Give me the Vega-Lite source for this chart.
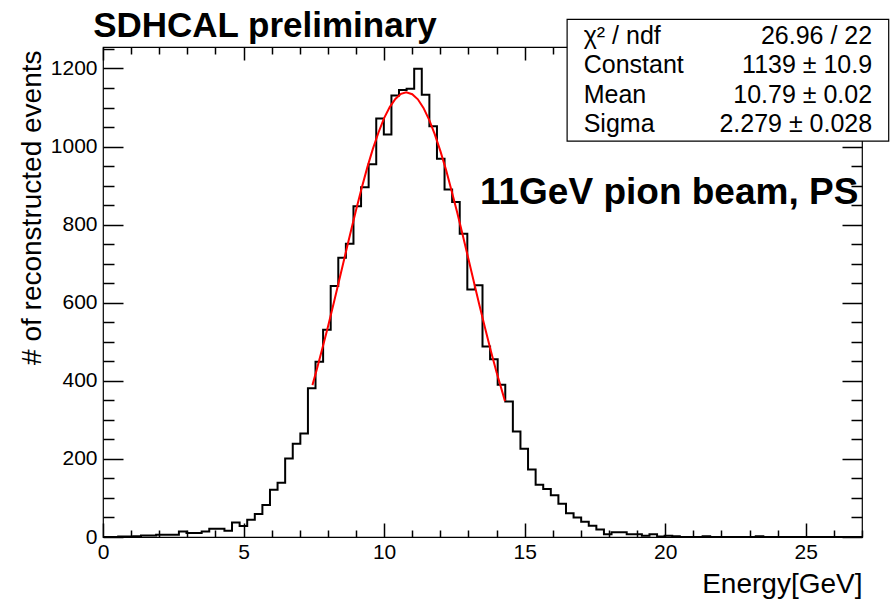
{
  "$schema": "https://vega.github.io/schema/vega-lite/v6.json",
  "width": 759,
  "height": 490,
  "autosize": {"type": "none"},
  "padding": {"left": 103, "top": 47, "right": 32, "bottom": 66},
  "background": "white",
  "config": {
    "font": "Liberation Sans",
    "view": {"stroke": "black", "strokeWidth": 1.2, "fill": null},
    "axis": {
      "domain": false,
      "grid": false,
      "ticks": true,
      "tickColor": "#000000",
      "tickWidth": 1.5,
      "zindex": 1,
      "labelColor": "black",
      "labelFont": "Liberation Sans",
      "labelFontSize": 21,
      "labelFlush": false,
      "labelOverlap": false,
      "titleFont": "Liberation Sans",
      "titleFontWeight": "normal",
      "titleColor": "black",
      "titleFontSize": 28
    }
  },
  "resolve": {"axis": {"x": "independent", "y": "independent"}},
  "layer": [
    {
      "data": {
        "values": [
          {"energy": 0, "events": 0}, {"energy": 0.27, "events": 0}, {"energy": 0.54, "events": 1}, {"energy": 0.81, "events": 1},
          {"energy": 1.08, "events": 2}, {"energy": 1.35, "events": 4}, {"energy": 1.62, "events": 4}, {"energy": 1.89, "events": 6},
          {"energy": 2.16, "events": 6}, {"energy": 2.43, "events": 6}, {"energy": 2.7, "events": 14}, {"energy": 2.97, "events": 10},
          {"energy": 3.24, "events": 10}, {"energy": 3.51, "events": 14}, {"energy": 3.78, "events": 21}, {"energy": 4.05, "events": 21},
          {"energy": 4.32, "events": 16}, {"energy": 4.59, "events": 37}, {"energy": 4.86, "events": 28}, {"energy": 5.13, "events": 44},
          {"energy": 5.4, "events": 59}, {"energy": 5.67, "events": 82}, {"energy": 5.94, "events": 121}, {"energy": 6.21, "events": 139},
          {"energy": 6.48, "events": 201}, {"energy": 6.75, "events": 239}, {"energy": 7.02, "events": 265}, {"energy": 7.29, "events": 381},
          {"energy": 7.56, "events": 449}, {"energy": 7.83, "events": 531}, {"energy": 8.1, "events": 643}, {"energy": 8.37, "events": 715},
          {"energy": 8.64, "events": 751}, {"energy": 8.91, "events": 847}, {"energy": 9.18, "events": 896}, {"energy": 9.45, "events": 955},
          {"energy": 9.72, "events": 1072}, {"energy": 9.99, "events": 1031}, {"energy": 10.26, "events": 1131}, {"energy": 10.53, "events": 1145},
          {"energy": 10.8, "events": 1148}, {"energy": 11.07, "events": 1199}, {"energy": 11.34, "events": 1133}, {"energy": 11.61, "events": 1052},
          {"energy": 11.88, "events": 969}, {"energy": 12.15, "events": 890}, {"energy": 12.42, "events": 858}, {"energy": 12.69, "events": 777},
          {"energy": 12.96, "events": 634}, {"energy": 13.23, "events": 645}, {"energy": 13.5, "events": 488}, {"energy": 13.77, "events": 455},
          {"energy": 14.04, "events": 390}, {"energy": 14.31, "events": 347}, {"energy": 14.58, "events": 270}, {"energy": 14.85, "events": 226},
          {"energy": 15.12, "events": 173}, {"energy": 15.39, "events": 134}, {"energy": 15.66, "events": 123}, {"energy": 15.93, "events": 107},
          {"energy": 16.2, "events": 85}, {"energy": 16.47, "events": 61}, {"energy": 16.74, "events": 50}, {"energy": 17.01, "events": 39},
          {"energy": 17.28, "events": 29}, {"energy": 17.55, "events": 19}, {"energy": 17.82, "events": 7}, {"energy": 18.09, "events": 12},
          {"energy": 18.36, "events": 12}, {"energy": 18.63, "events": 7}, {"energy": 18.9, "events": 7}, {"energy": 19.17, "events": 3},
          {"energy": 19.44, "events": 7}, {"energy": 19.71, "events": 1}, {"energy": 19.98, "events": 3}, {"energy": 20.25, "events": 2},
          {"energy": 20.52, "events": 0}, {"energy": 20.79, "events": 0}, {"energy": 21.06, "events": 0}, {"energy": 21.33, "events": 2},
          {"energy": 21.6, "events": 0}, {"energy": 21.87, "events": 0}, {"energy": 22.14, "events": 0}, {"energy": 22.41, "events": 0},
          {"energy": 22.68, "events": 0}, {"energy": 22.95, "events": 0}, {"energy": 23.22, "events": 2}, {"energy": 23.49, "events": 0},
          {"energy": 23.76, "events": 0}, {"energy": 24.03, "events": 0}, {"energy": 24.3, "events": 0}, {"energy": 24.57, "events": 0},
          {"energy": 24.84, "events": 0}, {"energy": 25.11, "events": 0}, {"energy": 25.38, "events": 0}, {"energy": 25.65, "events": 0},
          {"energy": 25.92, "events": 0}, {"energy": 26.19, "events": 0}, {"energy": 26.46, "events": 0}, {"energy": 26.73, "events": 0},
          {"energy": 27, "events": 0}
        ]
      },
      "mark": {"type": "line", "interpolate": "step-after", "color": "black", "strokeWidth": 2},
      "encoding": {
        "x": {
          "field": "energy",
          "type": "quantitative",
          "scale": {"domain": [0, 27], "nice": false, "zero": false},
          "axis": {
            "orient": "bottom",
            "values": [0, 5, 10, 15, 20, 25],
            "format": "d",
            "ticks": true,
            "offset": -14,
            "tickSize": 14,
            "labelPadding": 4,
            "title": "Energy[GeV]",
            "titleX": 759,
            "titleY": 69,
            "titleAlign": "right",
            "titleBaseline": "alphabetic",
            "titleAnchor": "end"
          }
        },
        "y": {
          "field": "events",
          "type": "quantitative",
          "scale": {"domain": [0, 1255], "nice": false, "zero": true},
          "axis": {
            "orient": "left",
            "values": [0, 200, 400, 600, 800, 1000, 1200],
            "format": "d",
            "ticks": true,
            "offset": -20,
            "tickSize": 20,
            "labelPadding": 6,
            "title": "# of reconstructed events",
            "titleAngle": -90,
            "titleX": -83,
            "titleY": 3,
            "titleAlign": "right",
            "titleBaseline": "alphabetic",
            "titleAnchor": "end"
          }
        }
      }
    },
    {
      "data": {
        "values": [
          {"energy": 7.45, "events": 389}, {"energy": 7.6, "events": 428}, {"energy": 7.8, "events": 482}, {"energy": 8.0, "events": 538},
          {"energy": 8.2, "events": 597}, {"energy": 8.4, "events": 657}, {"energy": 8.6, "events": 718}, {"energy": 8.8, "events": 778},
          {"energy": 9.0, "events": 837}, {"energy": 9.2, "events": 893}, {"energy": 9.4, "events": 946}, {"energy": 9.6, "events": 994},
          {"energy": 9.8, "events": 1036}, {"energy": 10.0, "events": 1073}, {"energy": 10.2, "events": 1101}, {"energy": 10.4, "events": 1122},
          {"energy": 10.6, "events": 1135}, {"energy": 10.79, "events": 1139}, {"energy": 11.0, "events": 1134}, {"energy": 11.2, "events": 1121},
          {"energy": 11.4, "events": 1099}, {"energy": 11.6, "events": 1069}, {"energy": 11.8, "events": 1032}, {"energy": 12.0, "events": 989},
          {"energy": 12.2, "events": 941}, {"energy": 12.4, "events": 887}, {"energy": 12.6, "events": 831}, {"energy": 12.8, "events": 772},
          {"energy": 13.0, "events": 712}, {"energy": 13.2, "events": 651}, {"energy": 13.4, "events": 591}, {"energy": 13.6, "events": 533},
          {"energy": 13.8, "events": 476}, {"energy": 14.0, "events": 422}, {"energy": 14.3, "events": 348}
        ]
      },
      "mark": {"type": "line", "color": "#ff0000", "strokeWidth": 2},
      "encoding": {
        "x": {
          "field": "energy",
          "type": "quantitative",
          "axis": {
            "orient": "top",
            "values": [0, 5, 10, 15],
            "labels": false,
            "ticks": true,
            "title": null,
            "offset": -13,
            "tickSize": 13
          }
        },
        "y": {
          "field": "events",
          "type": "quantitative",
          "axis": {
            "orient": "right",
            "values": [0, 200, 400, 600, 800, 1000],
            "labels": false,
            "ticks": true,
            "title": null,
            "offset": -20,
            "tickSize": 20
          }
        }
      }
    },
    {
      "data": {"values": [{"box": "stats"}]},
      "mark": {"type": "rect", "fill": "white", "stroke": "black", "strokeWidth": 1.2},
      "encoding": {
        "x": {
          "datum": 16.51,
          "type": "quantitative",
          "axis": {
            "orient": "bottom",
            "values": [1, 2, 3, 4, 6, 7, 8, 9, 11, 12, 13, 14, 16, 17, 18, 19, 21, 22, 23, 24, 26, 27],
            "labels": false,
            "ticks": true,
            "title": null,
            "offset": -7,
            "tickSize": 7
          }
        },
        "x2": {"datum": 27.95},
        "y": {
          "datum": 1014,
          "type": "quantitative",
          "axis": {
            "orient": "left",
            "values": [50, 100, 150, 250, 300, 350, 450, 500, 550, 650, 700, 750, 850, 900, 950, 1050, 1100, 1150, 1250],
            "labels": false,
            "ticks": true,
            "title": null,
            "offset": -11,
            "tickSize": 11
          }
        },
        "y2": {"datum": 1326}
      }
    },
    {
      "data": {"values": [{"box": "stats"}]},
      "mark": {
        "type": "text",
        "text": ["χ² / ndf", "Constant", "Mean", "Sigma"],
        "align": "left",
        "baseline": "alphabetic",
        "lineHeight": 29.5,
        "font": "Liberation Sans",
        "fontSize": 25,
        "color": "black"
      },
      "encoding": {
        "x": {
          "datum": 17.1,
          "type": "quantitative",
          "axis": {
            "orient": "top",
            "values": [1, 2, 3, 4, 6, 7, 8, 9, 11, 12, 13, 14, 16],
            "labels": false,
            "ticks": true,
            "title": null,
            "offset": -7,
            "tickSize": 7
          }
        },
        "y": {
          "datum": 1263,
          "type": "quantitative",
          "axis": {
            "orient": "right",
            "values": [50, 100, 150, 250, 300, 350, 450, 500, 550, 650, 700, 750, 850, 900, 950],
            "labels": false,
            "ticks": true,
            "title": null,
            "offset": -11,
            "tickSize": 11
          }
        }
      }
    },
    {
      "data": {"values": [{"box": "stats"}]},
      "mark": {
        "type": "text",
        "text": ["26.96 / 22", "1139 ± 10.9", "10.79 ± 0.02", "2.279 ± 0.028"],
        "align": "right",
        "baseline": "alphabetic",
        "lineHeight": 29.5,
        "font": "Liberation Sans",
        "fontSize": 25,
        "color": "black"
      },
      "encoding": {
        "x": {"datum": 27.36, "type": "quantitative", "axis": null},
        "y": {"datum": 1263, "type": "quantitative", "axis": null}
      }
    },
    {
      "data": {"values": [{"label": "11GeV pion beam, PS"}]},
      "mark": {
        "type": "text",
        "align": "right",
        "baseline": "alphabetic",
        "font": "Liberation Sans",
        "fontSize": 37,
        "fontWeight": "bold",
        "color": "black"
      },
      "encoding": {
        "text": {"field": "label"},
        "x": {"datum": 26.87, "type": "quantitative", "axis": null},
        "y": {"datum": 853, "type": "quantitative", "axis": null}
      }
    },
    {
      "data": {"values": [{"label": "SDHCAL preliminary"}]},
      "mark": {
        "type": "text",
        "align": "left",
        "baseline": "alphabetic",
        "font": "Liberation Sans",
        "fontSize": 35,
        "fontWeight": "bold",
        "color": "black"
      },
      "encoding": {
        "text": {"field": "label"},
        "x": {"datum": -0.35, "type": "quantitative", "axis": null},
        "y": {"datum": 1280, "type": "quantitative", "axis": null}
      }
    }
  ]
}
